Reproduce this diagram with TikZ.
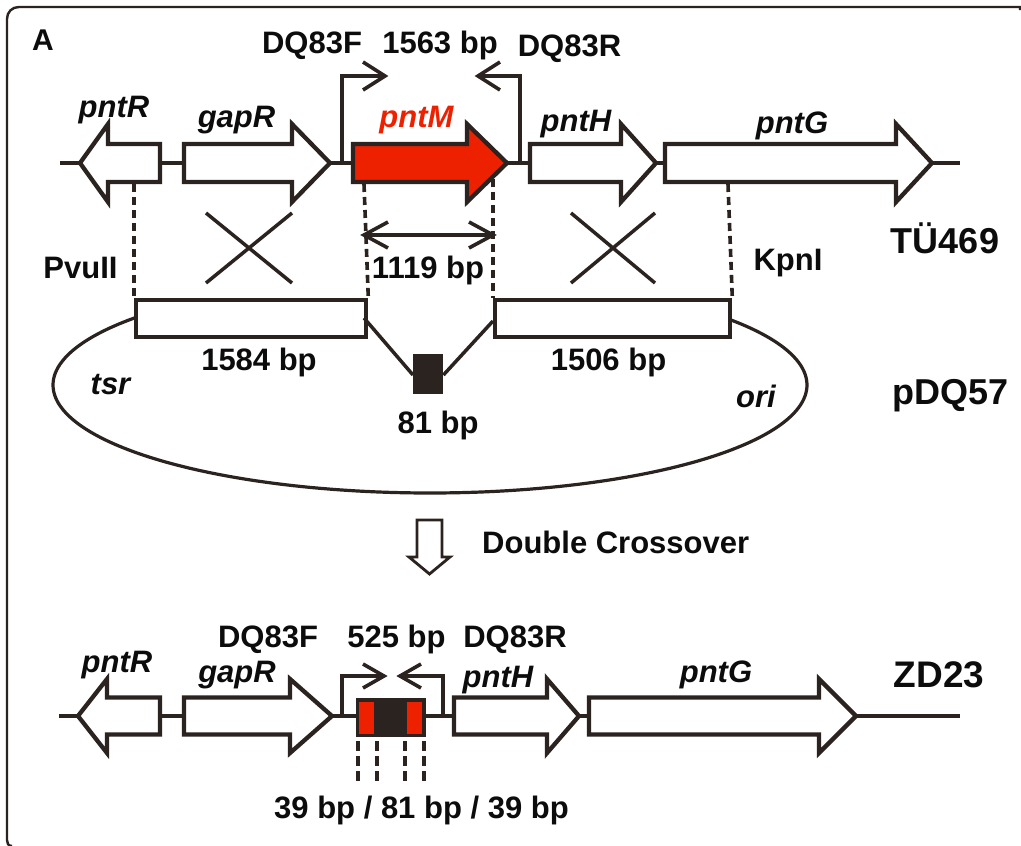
\documentclass[tikz,border=0pt]{standalone}
\usepackage{fontspec}
\setmainfont{Liberation Sans}
\definecolor{lc}{RGB}{43,35,32}
\definecolor{rd}{RGB}{237,32,0}
\definecolor{tc}{RGB}{12,12,12}
\newcommand\lblfont{\fontsize{31}{31}\selectfont\bfseries}
\newcommand\genefont{\fontsize{31}{31}\selectfont\bfseries\itshape}
\newcommand\strainfont{\fontsize{36}{36}\selectfont\bfseries}
\newcommand\panelfont{\fontsize{30}{30}\selectfont\bfseries}
% #1 style, #2 body end, #3 head base, #4 tip, #5 y centre, #6 body half height, #7 head half height
\newcommand\genearrow[7]{\path[#1] (#2,#5-#6) -- (#3,#5-#6) -- (#3,#5-#7) -- (#4,#5) -- (#3,#5+#7) -- (#3,#5+#6) -- (#2,#5+#6) -- cycle;}
\begin{document}
\begin{tikzpicture}[x=1pt,y=-1pt,
  gene/.style={draw=lc,line width=4.3pt,fill=white,line join=miter},
  redgene/.style={gene,fill=rd},
  wire/.style={draw=lc,line width=4pt},
  primer/.style={draw=lc,line width=3.6pt},
  crossline/.style={draw=lc,line width=3.5pt},
  dsh/.style={draw=lc,line width=3.6pt,dash pattern=on 8pt off 5pt},
  ell/.style={draw=lc,line width=3.2pt},
  frame/.style={draw=lc,line width=2.4pt},
  lbl/.style={font=\lblfont,text=tc,inner sep=0pt,anchor=base},
  glbl/.style={font=\genefont,text=tc,inner sep=0pt,anchor=base},
  slbl/.style={font=\strainfont,text=tc,inner sep=0pt,anchor=base}]
\useasboundingbox (0,0) rectangle (1021,846);
\fill[white] (0,0) rectangle (1021,846);
% frame
\draw[frame] (1020,10) -- (1020,7) -- (19,7) .. controls (12,7) and (7,12) .. (7,19) -- (7,840) .. controls (7,843) and (8,846) .. (12,846);
\node[font=\panelfont,text=tc,inner sep=0pt,anchor=base west] (panel) at (32,50) {A};

% ---------------- TU469 ----------------
\coordinate (t1) at (60,163);
\coordinate (t2) at (960,163);
\draw[wire] (t1) -- (t2);
\genearrow{gene}{160}{108}{80}{163}{19}{39}
\genearrow{gene}{184}{292}{330}{163}{19}{39}
\genearrow{redgene}{353}{467}{507}{163}{19}{39}
\genearrow{gene}{530}{621}{656}{163}{19}{39}
\genearrow{gene}{665}{896}{932}{163}{19}{39}
\node[glbl] (gR1) at (114,117) {pntR};
\node[glbl] (gG1) at (236.5,127) {gapR};
\node[glbl,text=rd] (gM1) at (416.5,127) {pntM};
\node[glbl] (gH1) at (576,131) {pntH};
\node[glbl] (gGG1) at (792,133) {pntG};
% primers
\coordinate (fA) at (342,163);
\coordinate (fB) at (385,76);
\draw[primer] (fA) |- (fB);
\draw[primer] (363,62) -- (fB) -- (363,90);
\coordinate (rA) at (520,163);
\coordinate (rB) at (478,76);
\draw[primer] (rA) |- (rB);
\draw[primer] (500,62) -- (rB) -- (500,90);
\node[lbl] (pF1) at (312,53) {DQ83F};
\node[lbl] (len1) at (440,53) {1563 bp};
\node[lbl] (pR1) at (569.5,56) {DQ83R};
\node[slbl] (s1) at (945,253) {TÜ469};

% ---------------- pDQ57 ----------------
\draw[ell] plot[domain=141.5:397.8,samples=160,smooth] ({430+377*cos(\x)},{385-108*sin(\x)});
\node[gene,minimum width=230pt,minimum height=37pt,inner sep=0pt,anchor=north west] (lbox) at (134,298) {};
\node[gene,minimum width=235pt,minimum height=37pt,inner sep=0pt,anchor=north west] (rbox) at (493,298) {};
\node[fill=lc,minimum width=30pt,minimum height=40pt,inner sep=0pt,anchor=north west] (ins) at (413,354) {};
\draw[crossline] (364,318) -- (ins.north west |- 0,375);
\draw[crossline] (493,321) -- (ins.north east |- 0,375);
% dashed guides
\draw[dsh] (134,184) -- (lbox.north west);
\draw[dsh] (364,184) -- (lbox.north east);
\draw[dsh] (493,179) -- (rbox.north west);
\draw[dsh] (728,184) -- (rbox.north east);
% crosses
\draw[crossline] (206,213) -- (292,283);
\draw[crossline] (292,213) -- (206,283);
\draw[crossline] (571,213) -- (655,283);
\draw[crossline] (655,213) -- (571,283);
% 1119 bp double arrow
\coordinate (dL) at (364,235);
\coordinate (dR) at (493,235);
\draw[primer] (dL) -- (dR);
\draw[primer] (388,222) -- (dL) -- (388,248);
\draw[primer] (469,222) -- (dR) -- (469,248);
\node[lbl] (l1119) at (428,278) {1119 bp};
\node[lbl] (pvu) at (80.5,278) {PvuII};
\node[lbl] (kpn) at (788,270) {KpnI};
\node[lbl] (l1584) at (259,370) {1584 bp};
\node[lbl] (l1506) at (608.5,370) {1506 bp};
\node[glbl] (tsr) at (110.5,394) {tsr};
\node[glbl] (ori) at (756,407) {ori};
\node[lbl] (l81) at (438,433) {81 bp};
\node[slbl] (s2) at (950.5,404) {pDQ57};

% ---------------- Double crossover ----------------
\draw[draw=lc,line width=2.8pt,fill=white,line join=miter] (417,520) -- (442,520) -- (442,557) -- (450,557) -- (429.5,574) -- (409,557) -- (417,557) -- cycle;
\node[lbl,anchor=base west] (dc) at (482,553) {Double Crossover};

% ---------------- ZD23 ----------------
\coordinate (z1) at (59,716);
\coordinate (z2) at (960,716);
\draw[wire] (z1) -- (z2);
\genearrow{gene}{160}{107}{78}{716}{18.5}{37}
\genearrow{gene}{184}{290}{332}{716}{18.5}{37}
\genearrow{gene}{454}{547}{579}{716}{18.5}{37}
\genearrow{gene}{589}{819}{856}{716}{18.5}{37}
\node[fill=lc,minimum width=70pt,minimum height=39pt,inner sep=0pt,anchor=north west] (zbox) at (356,698) {};
\fill[rd] (359,702) rectangle (374,734);
\fill[rd] (407,702) rectangle (422,734);
% primers
\coordinate (zfA) at (342,716);
\coordinate (zfB) at (384,676);
\draw[primer] (zfA) |- (zfB);
\draw[primer] (363,664) -- (zfB) -- (363,688);
\coordinate (zrA) at (443,716);
\coordinate (zrB) at (400,676);
\draw[primer] (zrA) |- (zrB);
\draw[primer] (421,664) -- (zrB) -- (421,688);
% dashed
\foreach \xx in {358,377,405,424} \draw[dsh,dash pattern=on 10pt off 5pt] (\xx,741) -- (\xx,784);
\node[glbl] (gR2) at (117,672) {pntR};
\node[glbl] (gG2) at (237,682) {gapR};
\node[glbl] (gH2) at (498,687) {pntH};
\node[glbl] (gGG2) at (716,682) {pntG};
\node[lbl] (pF2) at (268,647) {DQ83F};
\node[lbl] (len2) at (396.5,647) {525 bp};
\node[lbl] (pR2) at (515,647) {DQ83R};
\node[font=\fontsize{37}{37}\selectfont\bfseries,text=tc,inner sep=0pt,anchor=base] (s3) at (939,687) {ZD23};
\node[lbl] (l39) at (421.5,818) {39 bp / 81 bp / 39 bp};
\end{tikzpicture}
\end{document}
